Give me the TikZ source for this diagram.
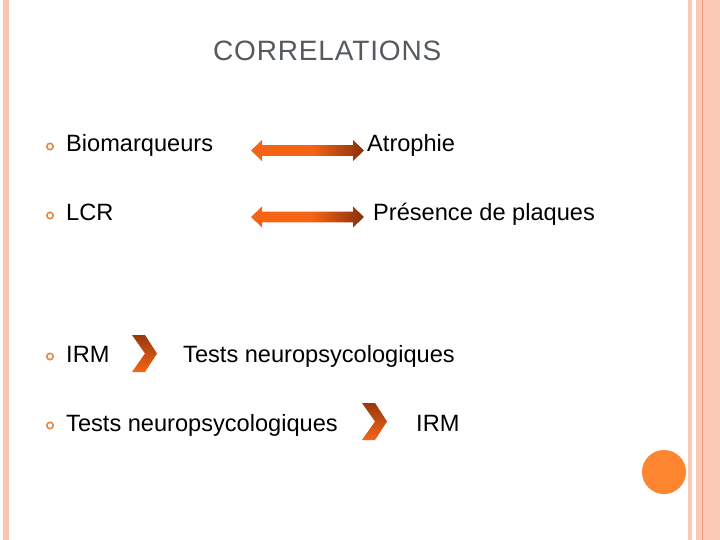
\documentclass[tikz,border=0pt]{standalone}
\usepackage{fontspec}
\setmainfont{Liberation Sans}
\definecolor{barpink}{RGB}{248,197,179}
\definecolor{stripepink}{RGB}{250,200,180}
\definecolor{stripeline}{RGB}{238,156,116}
\definecolor{dotorange}{RGB}{253,133,48}
\definecolor{bulletorange}{RGB}{230,135,75}
\definecolor{titlegray}{RGB}{85,90,95}
\definecolor{arrorange}{RGB}{245,100,20}
\definecolor{arrbrown}{RGB}{135,48,12}
\pgfdeclarehorizontalshading{arrowshade}{100bp}{color(0bp)=(arrorange); color(25bp)=(arrorange); color(52bp)=(arrorange); color(75bp)=(arrbrown); color(100bp)=(arrbrown)}
\tikzset{
  bodytext/.style={anchor=base west, inner sep=0pt, font=\fontsize{23.6}{28}\selectfont, text=black},
  titletext/.style={anchor=base west, inner sep=0pt, font=\fontsize{28}{32}\selectfont\addfontfeature{LetterSpace=3}, text=titlegray},
  bulletring/.style={draw=bulletorange, line width=1.6pt, fill=none},
  dblarrow/.style={shading=arrowshade},
  chevronshape/.style={top color=arrbrown!85!arrorange, bottom color=arrorange}
}
\begin{document}
\begin{tikzpicture}[x=1pt,y=-1pt]
\useasboundingbox (0,0) rectangle (720,540);
\fill[white] (0,0) rectangle (720,540);
% decorative bars
\fill[barpink] (3,0) rectangle (9,540);
\fill[stripepink] (688,0) rectangle (692,540);
\fill[stripepink] (696,0) rectangle (720,540);
\draw[stripeline, line width=1pt] (702.5,0) -- (702.5,540);
\fill[dotorange] (664,472) circle (22);
% title
\node[titletext] (title) at (213,61) {CORRELATIONS};
% bullets
\draw[bulletring] (50,146.5) circle (3.2);
\draw[bulletring] (50,215.5) circle (3.2);
\draw[bulletring] (50,356.5) circle (3.2);
\draw[bulletring] (50,425.5) circle (3.2);
% texts
\node[bodytext] (bio) at (66,152) {Biomarqueurs};
\node[bodytext] (atro) at (367,152) {Atrophie};
\node[bodytext] (lcr) at (66,221) {LCR};
\node[bodytext] (plaq) at (373,221) {Présence de plaques};
\node[bodytext] (irmA) at (66,362) {IRM};
\node[bodytext] (testsA) at (183,362) {Tests neuropsycologiques};
\node[bodytext] (testsB) at (66,431) {Tests neuropsycologiques};
\node[bodytext] (irmB) at (416,431) {IRM};
% double arrows
\foreach \cy in {150.5,217} {
  \shade[dblarrow] (251,\cy) -- (262,\cy-10.5) -- (262,\cy-5.3) -- (353,\cy-5.3) -- (353,\cy-10.5) -- (364,\cy)
    -- (353,\cy+10.5) -- (353,\cy+5.3) -- (262,\cy+5.3) -- (262,\cy+10.5) -- cycle;
}
% chevrons
\shade[chevronshape] (132,335) -- (145,335) -- (157,353.5) -- (145,372) -- (132,372) -- (145,353.5) -- cycle;
\shade[chevronshape] (362,403) -- (375,403) -- (387,421.5) -- (375,440) -- (362,440) -- (375,421.5) -- cycle;
\end{tikzpicture}
\end{document}
